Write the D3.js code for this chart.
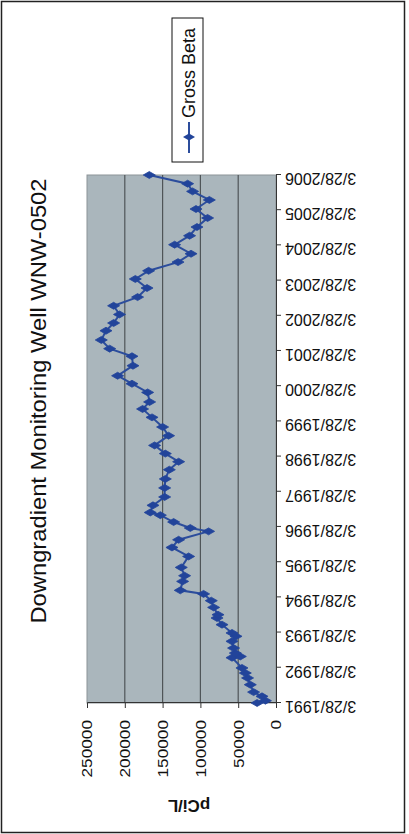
<!DOCTYPE html>
<html>
<head>
<meta charset="utf-8">
<script src="https://cdn.jsdelivr.net/npm/d3@7"></script>
<style>
  body { margin: 0; background: #ffffff; }
  svg { display: block; }
  text { font-family: "Liberation Sans", Arial, sans-serif; fill: #111; }
</style>
</head>
<body>
<svg id="chart" width="409" height="834"></svg>
<script>
// Gross beta activity (pCi/L) by sampling date
const sampleDates = [
  "1991-03-28","1991-04-21","1991-06-05","1991-07-19","1991-10-04","1991-12-13",
  "1992-02-02","1992-03-26","1992-07-10","1992-07-23","1992-08-27","1992-10-18","1992-12-27",
  "1993-02-17","1993-03-24","1993-06-18","1993-08-26","1993-09-29","1993-12-14",
  "1994-02-22","1994-05-03","1994-06-09","1994-09-10","1994-11-08",
  "1995-02-02","1995-05-27","1995-08-28","1995-11-16",
  "1996-02-11","1996-03-17","1996-05-18","1996-07-28","1996-08-25","1996-11-07",
  "1997-02-02","1997-05-07","1997-08-08","1997-11-12",
  "1998-02-03","1998-04-28","1998-07-22","1998-10-31",
  "1999-01-29","1999-05-09","1999-08-04","1999-10-16",
  "2000-01-23","2000-04-22","2000-07-14","2000-10-26",
  "2001-02-01","2001-04-21","2001-07-20","2001-10-24",
  "2002-01-12","2002-04-11","2002-07-10","2002-10-08",
  "2003-01-10","2003-04-14","2003-07-08","2003-10-06",
  "2004-01-01","2004-04-04","2004-07-06","2004-10-04",
  "2005-01-06","2005-04-09","2005-07-12","2005-10-09","2005-12-28",
  "2006-03-28"
];
const grossBeta = [
  25000, 14000, 18500, 29600, 34000, 37600,
  40600, 45000, 58200, 47200, 53800, 56100, 58200,
  52900, 58200, 71400, 78000, 76700, 82500,
  85600, 95800, 126600, 123500, 120900,
  125300, 115600, 137600, 128800,
  89200, 113400, 135400, 153000, 166300, 162700,
  147300, 147300, 146400, 141100,
  128800, 146400, 160600, 142100,
  150000, 164000, 176500, 167200,
  169800, 190500, 209500, 189200,
  190500, 220000, 231100, 224900,
  214800, 207000, 214800, 183100,
  170600, 186100, 168500, 129600,
  112400, 134100, 114300, 104500,
  90500, 105800, 88200, 110300, 116900,
  167600
];
const valueTicks = [0, 50000, 100000, 150000, 200000, 250000];
const dateTickLabels = [
  "3/28/1991","3/28/1992","3/28/1993","3/28/1994","3/28/1995","3/28/1996",
  "3/28/1997","3/28/1998","3/28/1999","3/28/2000","3/28/2001","3/28/2002",
  "3/28/2003","3/28/2004","3/28/2005","3/28/2006"
];
const seriesName = "Gross Beta";
const chartTitle = "Downgradient Monitoring Well WNW-0502";
const valueTitle = "pCi/L";

const parseISO = d3.timeParse("%Y-%m-%d");
const parseTick = d3.timeParse("%m/%d/%Y");
const points = sampleDates.map((d, i) => ({ date: parseISO(d), value: grossBeta[i] }));
const tickDates = dateTickLabels.map(parseTick);

// The chart is laid out landscape (834 x 409) and turned a quarter turn
// counter-clockwise onto the portrait page.
const W = 834, H = 409;
const svg = d3.select("#chart");
const page = svg.append("g").attr("transform", `translate(0,${834}) rotate(-90)`);

const plot = { left: 131, right: 659, top: 87, bottom: 276 };

const x = d3.scaleTime()
  .domain([tickDates[0], tickDates[tickDates.length - 1]])
  .range([plot.left, plot.right]);
const y = d3.scaleLinear()
  .domain([0, 250000])
  .range([plot.bottom, plot.top]);

// Plot area
page.append("rect")
  .attr("x", plot.left).attr("y", plot.top)
  .attr("width", plot.right - plot.left).attr("height", plot.bottom - plot.top)
  .attr("fill", "#aab6bc").attr("stroke", "#8c9397").attr("stroke-width", 1);

// Horizontal gridlines
page.append("g").selectAll("line")
  .data(valueTicks.filter(v => v > 0 && v < 250000))
  .join("line")
  .attr("x1", plot.left).attr("x2", plot.right)
  .attr("y1", d => y(d)).attr("y2", d => y(d))
  .attr("stroke", "#4f5558").attr("stroke-width", 1.2);

// Value axis
const yAxis = page.append("g")
  .attr("transform", `translate(${plot.left},0)`)
  .call(d3.axisLeft(y).tickValues(valueTicks).tickSize(5).tickPadding(12).tickFormat(d3.format("d")));
yAxis.select(".domain").attr("stroke", "#333");
yAxis.selectAll(".tick line").attr("stroke", "#333");
yAxis.selectAll(".tick text")
  .attr("font-size", 15)
  .attr("fill", "#111")
  .attr("transform", "scale(1.15,1)")
  .attr("x", -17 / 1.15);

// Date axis
const xAxis = page.append("g")
  .attr("transform", `translate(0,${plot.bottom})`)
  .call(d3.axisBottom(x).tickValues(tickDates).tickSize(5).tickFormat((d, i) => dateTickLabels[i]));
xAxis.select(".domain").attr("stroke", "#333");
xAxis.selectAll(".tick line").attr("stroke", "#333");
xAxis.selectAll(".tick text")
  .attr("font-size", 16)
  .attr("fill", "#111")
  .attr("text-anchor", "end")
  .attr("dy", "0.35em")
  .attr("y", 0)
  .attr("transform", "translate(-4,9) rotate(-90)");

// Series line and markers
const line = d3.line().x(d => x(d.date)).y(d => y(d.value));
page.append("path")
  .datum(points)
  .attr("d", line)
  .attr("fill", "none")
  .attr("stroke", "#2c4d9c")
  .attr("stroke-width", 2);

const diamond = d3.symbol().type(d3.symbolDiamond).size(42);
page.append("g").selectAll("path")
  .data(points)
  .join("path")
  .attr("d", diamond)
  .attr("transform", d => `translate(${x(d.date)},${y(d.value)})`)
  .attr("fill", "#22449a")
  .attr("stroke", "#22449a")
  .attr("stroke-width", 0.8);

// Title
page.append("text")
  .attr("transform", `translate(${433},${46}) scale(1.08,1)`)
  .attr("text-anchor", "middle")
  .attr("font-size", 22)
  .text(chartTitle);

// Value axis title
page.append("text")
  .attr("transform", `translate(${34},${189}) rotate(-90)`)
  .attr("text-anchor", "middle")
  .attr("font-size", 17)
  .attr("font-weight", "bold")
  .text(valueTitle);

// Legend
const legend = page.append("g");
legend.append("rect")
  .attr("x", 672).attr("y", 172).attr("width", 144).attr("height", 31)
  .attr("fill", "#fff").attr("stroke", "#111").attr("stroke-width", 1);
legend.append("line")
  .attr("x1", 681).attr("x2", 712).attr("y1", 189).attr("y2", 189)
  .attr("stroke", "#2c4d9c").attr("stroke-width", 2);
legend.append("path")
  .attr("d", diamond)
  .attr("transform", "translate(697,189)")
  .attr("fill", "#22449a");
legend.append("text")
  .attr("x", 716).attr("y", 189).attr("dy", "0.35em")
  .attr("font-size", 18)
  .text(seriesName);

// Chart area frame
page.append("rect")
  .attr("x", 1.5).attr("y", 1.5).attr("width", W - 3).attr("height", H - 6)
  .attr("fill", "none").attr("stroke", "#222").attr("stroke-width", 1.5);
</script>
</body>
</html>
